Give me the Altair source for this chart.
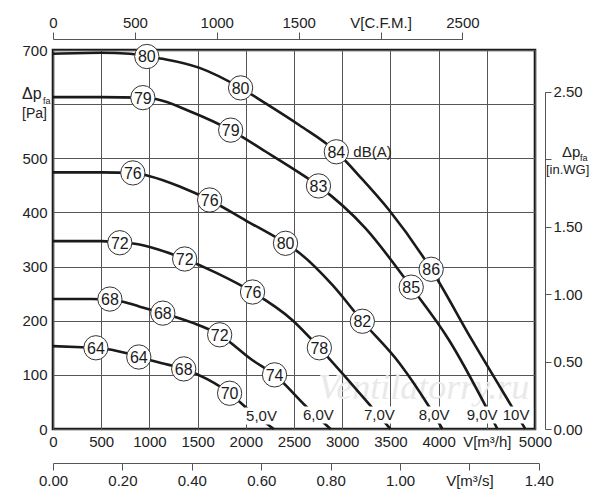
import altair as alt
import pandas as pd

FONT = "Liberation Sans"
INK = "#1a1a1a"
W, H = 482, 379
PA_PER_INWG = 249.089
M3H_PER_CFM = 1.699

# ---- fan curves: airflow [m3/h] vs static pressure [Pa] ----
curve_names = ["10V", "9,0V", "8,0V", "7,0V", "6,0V", "5,0V"]
flow_10 = [0, 500, 800, 973, 1160, 1520, 1946, 2200, 2557, 2939, 3200, 3488, 3923, 4347, 4761, 4900]
pres_10 = [693, 695, 693, 688, 683, 667, 630, 602, 561, 512, 463, 404, 295, 164, 41, 0]
flow_9 = [0, 500, 932, 1077, 1418, 1843, 2200, 2557, 2754, 3240, 3716, 4109, 4492, 4610]
pres_9 = [613, 613, 612, 609, 587, 552, 513, 473, 449, 371, 262, 164, 41, 0]
flow_8 = [0, 500, 828, 1004, 1314, 1625, 2000, 2412, 2557, 2898, 3209, 3592, 3902, 4040]
pres_8 = [474, 474, 473, 467, 448, 423, 385, 343, 325, 266, 199, 122, 41, 0]
flow_7 = [0, 500, 693, 849, 1100, 1366, 1700, 2070, 2484, 2763, 3040, 3302, 3500]
pres_7 = [347, 347, 344, 342, 331, 314, 288, 253, 201, 150, 95, 41, 0]
flow_6 = [0, 400, 590, 725, 900, 1139, 1450, 1729, 2070, 2298, 2629, 2880]
pres_6 = [240, 240, 239, 235, 226, 214, 196, 174, 127, 100, 41, 0]
flow_5 = [0, 300, 445, 766, 890, 1120, 1356, 1600, 1832, 2008, 2290]
pres_5 = [153, 151, 150, 140, 133, 122, 111, 92, 66, 39, 0]

# ---- sound level markers dB(A) ----
db_flow = [973, 1946, 2939, 3923, 932, 1843, 2754, 3716, 828, 1625, 2412, 3209,
           693, 1366, 2070, 2763, 590, 1139, 1729, 2298, 445, 890, 1356, 1832]
db_pres = [688, 630, 512, 295, 612, 552, 449, 262, 473, 423, 343, 199,
           344, 314, 253, 150, 240, 214, 174, 100, 150, 133, 111, 66]
db_text = ["80", "80", "84", "86", "79", "79", "83", "85", "76", "76", "80", "82",
           "72", "72", "76", "78", "68", "68", "72", "74", "64", "64", "68", "70"]

# ---- voltage labels ----
volt_text = ["5,0V", "6,0V", "7,0V", "8,0V", "9,0V", "10V"]
volt_flow = [2163, 2753, 3385, 3954, 4452, 4804]
volt_pres = [24, 26, 26, 26, 26, 26]

# ---- axis ticks ----
m3h_ticks = list(range(0, 5001, 500))
pa_ticks = list(range(0, 701, 100))
cfm_ticks = [0, 500, 1000, 1500, 2000, 2500]
m3s_ticks = [0.0, 0.2, 0.4, 0.6, 0.8, 1.0, 1.2, 1.4]
wg_ticks = [0.0, 0.5, 1.0, 1.5, 2.0, 2.5]

rows = []
for name, fl, pr in zip(curve_names,
                        [flow_10, flow_9, flow_8, flow_7, flow_6, flow_5],
                        [pres_10, pres_9, pres_8, pres_7, pres_6, pres_5]):
    for f, p in zip(fl, pr):
        rows.append({"curve": name, "flow": f, "pres": p})
curves_df = pd.DataFrame(rows)
db_df = pd.DataFrame({"flow": db_flow, "pres": db_pres, "t": db_text})
volt_df = pd.DataFrame({"flow": volt_flow, "pres": volt_pres, "t": volt_text})

xs = alt.Scale(domain=[0, 5000], nice=False, zero=False)
ys = alt.Scale(domain=[0, 700], nice=False, zero=False)
x_main = alt.X("flow:Q", scale=xs, title=None,
               axis=alt.Axis(values=m3h_ticks, format="d", grid=True, ticks=False, domain=False,
                             labelPadding=5, title=None,
                             labelExpr="datum.value == 4500 ? 'V[m³/h]' : datum.label"))
y_main = alt.Y("pres:Q", scale=ys, title=None,
               axis=alt.Axis(values=pa_ticks, format="d", grid=True, ticks=False, domain=False,
                             labelPadding=6, title=None,
                             labelExpr="datum.value == 600 ? '' : datum.label"))


def note(text, flow, pres, dx, dy, size=15, align="left"):
    df = pd.DataFrame({"flow": [flow], "pres": [pres], "t": [text]})
    return alt.Chart(df).mark_text(align=align, baseline="middle", dx=dx, dy=dy, font=FONT,
                                   fontSize=size, color="#222").encode(
        x=x_main, y=y_main, text="t:N")


watermark = alt.Chart(pd.DataFrame({"flow": [3847], "pres": [76], "t": ["Ventilatorry.ru"]})).mark_text(
    align="center", baseline="middle", font="Liberation Serif", fontSize=36, fontStyle="italic",
    color="#e9e9e9").encode(x=x_main, y=y_main, text="t:N")

lines = alt.Chart(curves_df).mark_line(interpolate="monotone", color=INK, strokeWidth=2.6).encode(
    x=x_main, y=y_main, detail="curve:N")

boxes = alt.Chart(volt_df).mark_point(shape="M-1,-0.5L1,-0.5L1,0.5L-1,0.5Z", filled=True,
                                      fill="white", opacity=1, size=34 * 34, strokeWidth=0).encode(
    x=x_main, y=y_main)
volt_txt = alt.Chart(volt_df).mark_text(font=FONT, fontSize=15, color="#222",
                                        baseline="middle").encode(x=x_main, y=y_main, text="t:N")

circles = alt.Chart(db_df).mark_point(shape="circle", filled=True, fill="white", stroke="#333",
                                      strokeWidth=1, size=590, opacity=1).encode(x=x_main, y=y_main)
circ_txt = alt.Chart(db_df).mark_text(font=FONT, fontSize=16, color=INK, baseline="middle",
                                      dy=1).encode(x=x_main, y=y_main, text="t:N")

dba = note("dB(A)", 3115, 512, 0, 0, size=15)

wg2 = 2.0 * PA_PER_INWG
notes = [
    note("Δp", 0, 600, -31, -10, size=16),
    note("fa", 0, 600, -10, -3, size=9),
    note("[Pa]", 0, 600, -31, 10, size=14),
    note("Δp", 5000, wg2, 27, -7, size=15),
    note("fa", 5000, wg2, 45, -1, size=9),
    note("[in.WG]", 5000, wg2, 11, 11, size=13),
]

main = alt.layer(watermark, lines, boxes, volt_txt, circles, circ_txt, dba, *notes)

guide_style = dict(domainColor="#555", tickColor="#555", domainWidth=1, tickWidth=1, grid=False, title=None)

cfm_layer = alt.Chart(pd.DataFrame({"cfm": [0, 2500]})).mark_point(opacity=0).encode(
    x=alt.X("cfm:Q", title=None,
            scale=alt.Scale(domain=[0, 2500], range=[0, W * 2500 * M3H_PER_CFM / 5000], nice=False, zero=False),
            axis=alt.Axis(orient="top", offset=11, values=cfm_ticks, format="d", tickSize=7, labelPadding=2,
                          labelExpr="datum.value == 2000 ? 'V[C.F.M.]' : datum.label", **guide_style)))

m3s_layer = alt.Chart(pd.DataFrame({"ms": [0, 1.4]})).mark_point(opacity=0).encode(
    x=alt.X("ms:Q", title=None,
            scale=alt.Scale(domain=[0, 1.4], range=[0, W * 1.4 * 3600 / 5000], nice=False, zero=False),
            axis=alt.Axis(orient="bottom", offset=34, values=m3s_ticks, format=".2f", tickSize=7, labelPadding=3,
                          labelExpr="abs(datum.value - 1.2) < 0.01 ? 'V[m³/s]' : datum.label", **guide_style)))

wg_layer = alt.Chart(pd.DataFrame({"wg": [0, 2.5]})).mark_point(opacity=0).encode(
    y=alt.Y("wg:Q", title=None,
            scale=alt.Scale(domain=[0, 2.5], range=[H, H - H * 2.5 * PA_PER_INWG / 700], nice=False, zero=False),
            axis=alt.Axis(orient="right", offset=10, values=wg_ticks, format=".2f", tickSize=6, labelPadding=2,
                          labelExpr="abs(datum.value - 2.0) < 0.01 ? '' : datum.label", **guide_style)))

chart = alt.layer(main, cfm_layer, m3s_layer, wg_layer).resolve_scale(
    x="independent", y="independent"
).properties(
    width=W, height=H,
    autosize=alt.AutoSizeParams(type="none"),
    padding={"left": 45, "top": 42, "right": 57, "bottom": 63},
    background="white",
).configure_view(
    stroke=INK, strokeWidth=2.6
).configure_axis(
    labelFont=FONT, labelFontSize=15, labelColor="#222",
    gridColor="#555", gridWidth=1, gridOpacity=1,
    labelFlush=False, labelOverlap=False,
)

chart.save("out.html", embed_options={"renderer": "svg", "actions": False})
